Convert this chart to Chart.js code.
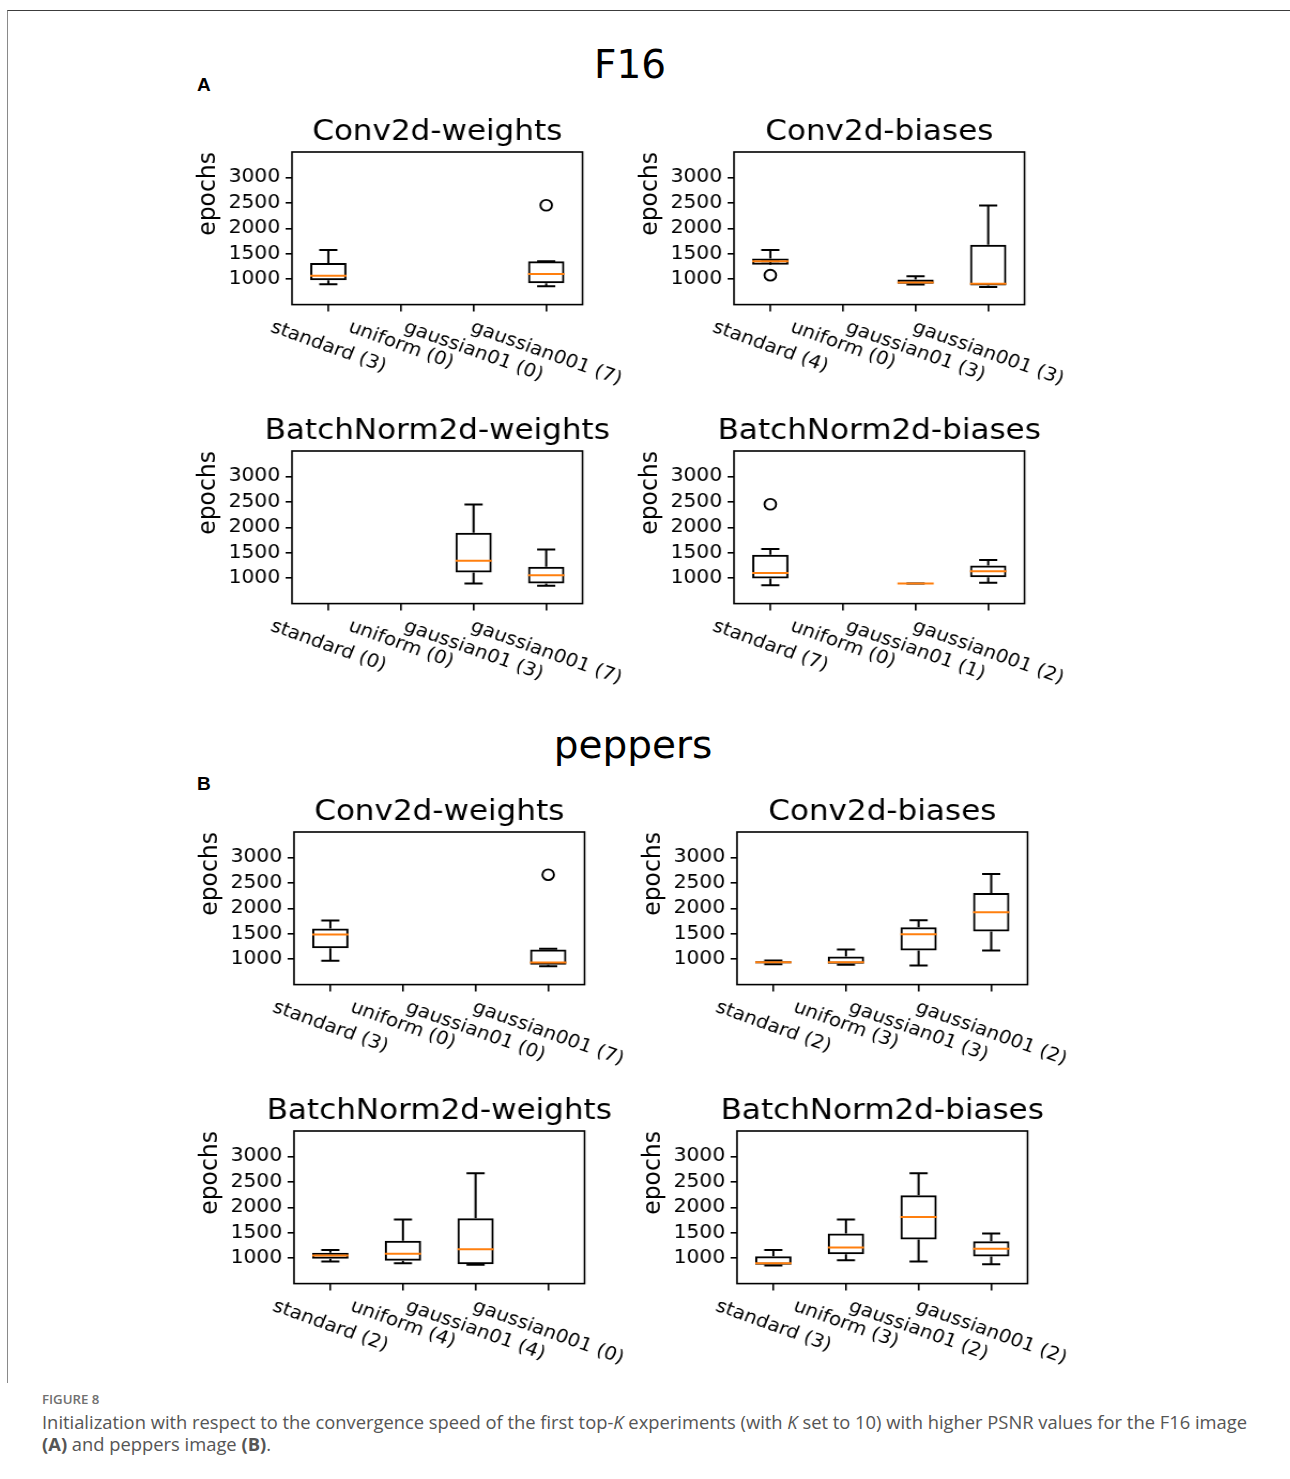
<!DOCTYPE html>
<html>
<head>
<meta charset="utf-8">
<title>Figure 8</title>
<script src="https://cdn.jsdelivr.net/npm/chart.js@4.4.1/dist/chart.umd.min.js"></script>
<style>
  html, body { margin: 0; padding: 0; background: #fff; }
  body { position: relative; width: 1290px; height: 1479px; overflow: hidden; }
  .frame { position: absolute; left: 7px; top: 10px; width: 1283px; height: 1372px;
           border-top: 1px solid #3c3c3c; border-left: 1px solid #8a8a8a; }
  .head { position: absolute; font-family: "DejaVu Sans"; font-size: 39px; line-height: 39px;
          color: #000; transform: translateX(-50%); white-space: nowrap; }
  .tag { position: absolute; font-family: "Liberation Sans"; font-weight: bold; font-size: 19px;
         line-height: 19px; color: #000; }
  .panel { position: absolute; transform-origin: 0 0; }
  .panel canvas { display: block; }
  #caption { position: absolute; left: 42px; top: 1391px; font-family: "Open Sans";
             transform-origin: 0 0; white-space: nowrap; }
  #caption .fig { font-size: 13px; line-height: 16px; color: #707070; font-weight: 600; margin-bottom: 4px; }
  #caption .line { font-size: 18px; line-height: 22px; color: #555; }
</style>
</head>
<body>
<div class="frame"></div>
<div class="head" style="left:630px; top:45px;">F16</div>
<div class="tag" style="left:197px; top:75px;">A</div>
<div class="head" style="left:633px; top:725px;">peppers</div>
<div class="tag" style="left:197px; top:774px;">B</div>
<div id="caption">
  <div class="fig">FIGURE 8</div>
  <div class="line"><span id="capLine1">Initialization with respect to the convergence speed of the first top-<i>K</i> experiments (with <i>K</i> set to 10) with higher PSNR values for the F16 image</span></div>
  <div class="line"><b>(A)</b> and peppers image <b>(B)</b>.</div>
</div>

<script>
// categories and axis
const categories = ["standard", "uniform", "gaussian01", "gaussian001"];
const yTicks = [1000, 1500, 2000, 2500, 3000];
const yMin = 500, yMax = 3500;

// box stats per category: [low whisker, Q1, median, Q3, high whisker], null = no runs
// F16
const f16ConvW = [[902, 980, 1065, 1319, 1573], null, null, [863, 922, 1104, 1352, 1352]];
const f16ConvWOut = [null, null, null, 2453];
const f16ConvWN = [3, 0, 0, 7];

const f16ConvB = [[1350, 1282, 1350, 1408, 1573], null, [896, 909, 935, 993, 1059], [845, 876, 909, 1677, 2446]];
const f16ConvBOut = [1078, null, null, null];
const f16ConvBN = [4, 0, 3, 3];

const f16BnW = [null, null, [895, 1111, 1341, 1892, 2449], [849, 895, 1059, 1223, 1564]];
const f16BnWOut = [null, null, null, null];
const f16BnWN = [0, 0, 3, 7];

const f16BnB = [[863, 993, 1104, 1462, 1573], null, [896, 896, 896, 896, 896], [909, 1020, 1137, 1248, 1358]];
const f16BnBOut = [2453, null, null, null];
const f16BnBN = [7, 0, 1, 2];

// peppers
const pepConvW = [[967, 1216, 1484, 1601, 1758], null, null, [863, 889, 935, 1190, 1203]];
const pepConvWOut = [null, null, null, 2660];
const pepConvWN = [3, 0, 0, 7];

const pepConvB = [[902, 915, 941, 961, 974], [889, 908, 941, 1052, 1190], [876, 1170, 1490, 1627, 1765], [1170, 1542, 1922, 2301, 2673]];
const pepConvBOut = [null, null, null, null];
const pepConvBN = [2, 3, 3, 2];

const pepBnW = [[935, 987, 1052, 1105, 1163], [902, 948, 1085, 1340, 1758], [869, 882, 1176, 1784, 2667], null];
const pepBnWOut = [null, null, null, null];
const pepBnWN = [2, 4, 4, 0];

const pepBnB = [[856, 869, 902, 1039, 1163], [961, 1078, 1209, 1484, 1758], [935, 1366, 1810, 2235, 2667], [882, 1033, 1183, 1333, 1484]];
const pepBnBOut = [null, null, null, null];
const pepBnBN = [3, 3, 2, 2];

// the original figure is a little stretched sideways, so each panel is drawn narrower and scaled
const SX = 1.07;
const AXIS_W = 100, PAD_TOP = 48, PLOT_W = 271.5, PLOT_H = 152.6;
const CANVAS_W = 422, CANVAS_H = 301;
const PAD_RIGHT = CANVAS_W - AXIS_W - PLOT_W;
const FS = 18.5;

Chart.defaults.font.family = "DejaVu Sans";
Chart.defaults.color = "#000";

const boxPlot = {
  id: "boxPlot",
  afterDatasetsDraw(chart, args, opts) {
    const { ctx, scales: { x, y } } = chart;
    const unit = x.getPixelForValue(1) - x.getPixelForValue(0);
    ctx.save();
    ctx.lineWidth = 2;
    opts.stats.forEach((s, i) => {
      if (!s) return;
      const cx = x.getPixelForValue(i);
      const [lo, q1, med, q3, hi] = s.map(v => y.getPixelForValue(v));
      // whiskers + caps
      ctx.strokeStyle = "#000";
      ctx.beginPath();
      ctx.moveTo(cx, q1); ctx.lineTo(cx, lo);
      ctx.moveTo(cx, q3); ctx.lineTo(cx, hi);
      ctx.moveTo(cx - unit * 0.125, lo); ctx.lineTo(cx + unit * 0.125, lo);
      ctx.moveTo(cx - unit * 0.125, hi); ctx.lineTo(cx + unit * 0.125, hi);
      ctx.stroke();
      // median
      ctx.strokeStyle = "#ff7f0e";
      ctx.beginPath();
      ctx.moveTo(cx - unit * 0.25, med); ctx.lineTo(cx + unit * 0.25, med);
      ctx.stroke();
    });
    ctx.restore();
  },
  afterDraw(chart, args, opts) {
    const { ctx, chartArea: a, scales: { x } } = chart;
    ctx.save();
    // all four spines
    ctx.strokeStyle = "#000";
    ctx.lineWidth = 1.6;
    ctx.strokeRect(a.left, a.top, a.right - a.left, a.bottom - a.top);
    // panel title
    ctx.fillStyle = "#000";
    ctx.font = "29px 'DejaVu Sans'";
    ctx.textAlign = "center";
    ctx.textBaseline = "alphabetic";
    ctx.fillText(opts.title, (a.left + a.right) / 2, a.top - 12);
    // tick labels turned clockwise, box centred under the tick
    const th = 21 * Math.PI / 180;
    ctx.font = FS + "px 'DejaVu Sans'";
    ctx.textBaseline = "middle";
    chart.data.labels.forEach((lab, i) => {
      const w = ctx.measureText(lab).width;
      const h = FS * 1.164;
      const bh = w * Math.sin(th) + h * Math.cos(th);
      ctx.save();
      ctx.translate(x.getPixelForValue(i), a.bottom + 7 + 5 + bh / 2);
      ctx.rotate(th);
      ctx.fillText(lab, 0, 0);
      ctx.restore();
    });
    ctx.restore();
  }
};

function addPanel(p) {
  const wrap = document.createElement("div");
  wrap.className = "panel";
  wrap.style.left = (p.left - AXIS_W * SX) + "px";
  wrap.style.top = (p.top - PAD_TOP) + "px";
  wrap.style.transform = "scaleX(" + SX + ")";
  const canvas = document.createElement("canvas");
  canvas.width = CANVAS_W;
  canvas.height = CANVAS_H;
  canvas.style.width = CANVAS_W + "px";
  canvas.style.height = CANVAS_H + "px";
  wrap.appendChild(canvas);
  document.body.appendChild(wrap);

  const labels = categories.map((c, i) => c + " (" + p.n[i] + ")");

  new Chart(canvas.getContext("2d"), {
    type: "bar",
    data: {
      labels: labels,
      datasets: [
        {
          type: "bar",
          data: p.stats.map(s => s ? [s[1], s[3]] : null),
          backgroundColor: "rgba(0,0,0,0)",
          borderColor: "#000",
          borderWidth: 2,
          borderSkipped: false,
          barPercentage: 0.5,
          categoryPercentage: 1
        },
        {
          type: "line",
          data: p.out,
          showLine: false,
          pointStyle: "circle",
          pointRadius: 5.4,
          pointHoverRadius: 5.4,
          pointBorderWidth: 1.9,
          pointBorderColor: "#000",
          pointBackgroundColor: "rgba(0,0,0,0)"
        }
      ]
    },
    options: {
      responsive: false,
      animation: false,
      events: [],
      layout: { padding: { top: PAD_TOP, right: PAD_RIGHT, left: 0, bottom: 0 }, autoPadding: false },
      plugins: {
        legend: { display: false },
        tooltip: { enabled: false },
        boxPlot: { title: p.title, stats: p.stats }
      },
      scales: {
        x: {
          ticks: { display: false },
          grid: { drawOnChartArea: false, offset: false, tickLength: 7, color: "#000", lineWidth: 1.6 },
          border: { display: false },
          afterFit: s => { s.height = CANVAS_H - PAD_TOP - PLOT_H; }
        },
        y: {
          min: yMin,
          max: yMax,
          afterBuildTicks: s => { s.ticks = yTicks.map(v => ({ value: v })); },
          ticks: { font: { size: 19 }, color: "#000", padding: 5, callback: v => String(v) },
          grid: { drawOnChartArea: false, tickLength: 6, color: "#000", lineWidth: 1.6 },
          border: { display: false },
          title: { display: true, text: "epochs", align: "end", font: { size: 23.5 }, color: "#000",
                   padding: { top: 8, bottom: 0 } },
          afterFit: s => { s.width = AXIS_W; }
        }
      }
    },
    plugins: [boxPlot]
  });
}

const panels = [
  { title: "Conv2d-weights", stats: f16ConvW, out: f16ConvWOut, n: f16ConvWN, left: 291.5, top: 151.7 },
  { title: "Conv2d-biases", stats: f16ConvB, out: f16ConvBOut, n: f16ConvBN, left: 734.3, top: 151.7 },
  { title: "BatchNorm2d-weights", stats: f16BnW, out: f16BnWOut, n: f16BnWN, left: 291.5, top: 450.7 },
  { title: "BatchNorm2d-biases", stats: f16BnB, out: f16BnBOut, n: f16BnBN, left: 734.3, top: 450.7 },
  { title: "Conv2d-weights", stats: pepConvW, out: pepConvWOut, n: pepConvWN, left: 294.3, top: 832.3 },
  { title: "Conv2d-biases", stats: pepConvB, out: pepConvBOut, n: pepConvBN, left: 736.7, top: 832.3 },
  { title: "BatchNorm2d-weights", stats: pepBnW, out: pepBnWOut, n: pepBnWN, left: 294.3, top: 1131 },
  { title: "BatchNorm2d-biases", stats: pepBnB, out: pepBnBOut, n: pepBnBN, left: 736.7, top: 1131 }
];
panels.forEach(addPanel);

// squeeze the caption so the first line spans the same width as in the figure
const capW = document.getElementById("capLine1").getBoundingClientRect().width;
document.getElementById("caption").style.transform = "scaleX(" + (1205 / capW) + ")";
</script>
</body>
</html>
